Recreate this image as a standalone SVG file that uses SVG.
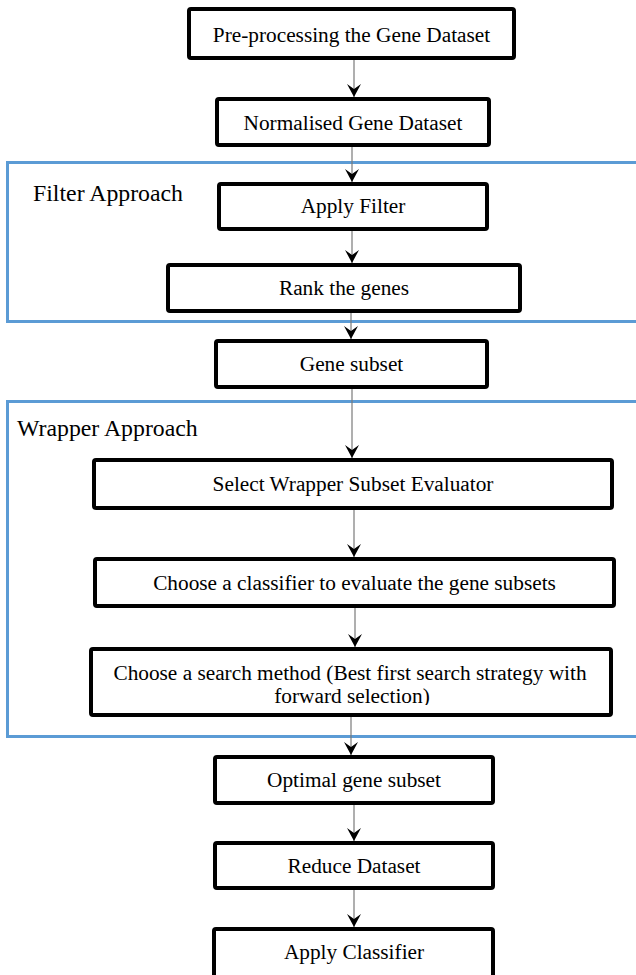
<svg xmlns="http://www.w3.org/2000/svg" width="636" height="975" viewBox="0 0 636 975">
  <style>
    .box { fill: #ffffff; stroke: #000000; stroke-width: 4; }
    .group { fill: none; stroke: #5b9bd5; stroke-width: 3; }
    .txt { font-family: "Liberation Serif", "Times New Roman", serif; font-size: 21.3px; fill: #000000; text-anchor: middle; }
    .label { font-family: "Liberation Serif", "Times New Roman", serif; font-size: 23.8px; fill: #000000; }
    .conn { stroke: #7a7a7a; stroke-width: 1.2; fill: none; marker-end: url(#head); }
  </style>
  <defs>
    <marker id="head" markerUnits="userSpaceOnUse" markerWidth="13" markerHeight="14" viewBox="0 0 13 14" refX="13" refY="7" orient="auto">
      <path d="M0,0 L13,7 L0,14 L5,7 Z" fill="#000000"/>
    </marker>
    <clipPath id="clip-search">
      <rect x="89" y="647" width="524" height="58"/>
    </clipPath>
  </defs>

  <rect width="636" height="975" fill="#ffffff"/>

  <!-- approach groupings -->
  <g id="filter-approach">
    <rect class="group" x="7.5" y="162.5" width="700" height="159"/>
    <text class="label" x="33" y="201">Filter Approach</text>
  </g>
  <g id="wrapper-approach">
    <rect class="group" x="7.5" y="401.5" width="700" height="335"/>
    <text class="label" x="17" y="436">Wrapper Approach</text>
  </g>

  <!-- connectors -->
  <g id="connectors">
    <line class="conn" x1="354" y1="60" x2="354" y2="97"/>
    <line class="conn" x1="352" y1="147" x2="352" y2="182"/>
    <line class="conn" x1="352" y1="231" x2="352" y2="263"/>
    <line class="conn" x1="351" y1="313" x2="351" y2="339"/>
    <line class="conn" x1="352" y1="389" x2="352" y2="458"/>
    <line class="conn" x1="354" y1="510" x2="354" y2="557"/>
    <line class="conn" x1="355" y1="608" x2="355" y2="647"/>
    <line class="conn" x1="351" y1="717" x2="351" y2="755"/>
    <line class="conn" x1="354" y1="805" x2="354" y2="841"/>
    <line class="conn" x1="354" y1="890" x2="354" y2="927"/>
  </g>

  <!-- process steps -->
  <g id="preprocess">
    <rect class="box" x="189" y="9" width="325" height="49" rx="2"/>
    <text class="txt" x="351.5" y="42">Pre-processing the Gene Dataset</text>
  </g>
  <g id="normalised">
    <rect class="box" x="217" y="99" width="272" height="46" rx="2"/>
    <text class="txt" x="353" y="130">Normalised Gene Dataset</text>
  </g>
  <g id="apply-filter">
    <rect class="box" x="219" y="184" width="268" height="45" rx="2"/>
    <text class="txt" x="353" y="213">Apply Filter</text>
  </g>
  <g id="rank-genes">
    <rect class="box" x="168" y="265" width="352" height="46" rx="2"/>
    <text class="txt" x="344" y="295">Rank the genes</text>
  </g>
  <g id="gene-subset">
    <rect class="box" x="216" y="341" width="271" height="46" rx="2"/>
    <text class="txt" x="351.5" y="371">Gene subset</text>
  </g>
  <g id="select-evaluator">
    <rect class="box" x="94" y="460" width="518" height="48" rx="2"/>
    <text class="txt" x="353" y="491">Select Wrapper Subset Evaluator</text>
  </g>
  <g id="choose-classifier">
    <rect class="box" x="95" y="559" width="519" height="47" rx="2"/>
    <text class="txt" x="354.5" y="590">Choose a classifier to evaluate the gene subsets</text>
  </g>
  <g id="search-method">
    <rect class="box" x="91" y="649" width="520" height="66" rx="2"/>
    <g clip-path="url(#clip-search)">
      <text class="txt" x="350" y="680">Choose a search method (Best first search strategy with</text>
      <text class="txt" x="352" y="703">forward selection)</text>
    </g>
  </g>
  <g id="optimal-subset">
    <rect class="box" x="215" y="757" width="278" height="46" rx="2"/>
    <text class="txt" x="354" y="787">Optimal gene subset</text>
  </g>
  <g id="reduce-dataset">
    <rect class="box" x="215" y="843" width="278" height="45" rx="2"/>
    <text class="txt" x="354" y="873">Reduce Dataset</text>
  </g>
  <g id="apply-classifier">
    <rect class="box" x="214" y="929" width="279" height="50" rx="2"/>
    <text class="txt" x="354" y="959">Apply Classifier</text>
  </g>
</svg>
